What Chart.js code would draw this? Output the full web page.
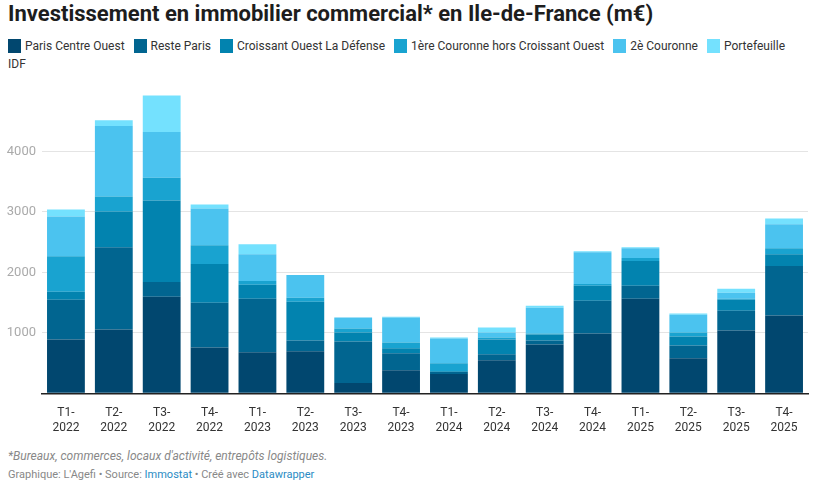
<!DOCTYPE html>
<html>
<head>
<meta charset="utf-8">
<script src="https://cdn.jsdelivr.net/npm/chart.js@4/dist/chart.umd.min.js"></script>
<style>
  body { margin: 0; background: #fff; font-family: Roboto, sans-serif; }
  #wrap { position: relative; width: 827px; height: 487px; overflow: hidden; }
  h1 { position: absolute; left: 8px; top: 1px; margin: 0; font-size: 22px; font-weight: 700; color: #1d1d1d; }
  #legend { position: absolute; left: 8px; top: 38px; width: 800px; font-size: 12px; line-height: 17.5px; color: #333; }
  #legend span.sw { display: inline-block; width: 13px; height: 14px; vertical-align: -3px; margin-right: 4px; }
  #legend span.item { margin-right: 9px; }
  #box { position: absolute; left: 0; top: 80px; width: 827px; height: 360px; }
  .note { position: absolute; left: 8px; font-size: 12px; color: #888; }
  .note a { color: #2a8bc4; text-decoration: none; }
</style>
</head>
<body>
<div id="wrap">
  <h1>Investissement en immobilier commercial* en Ile-de-France (m€)</h1>
  <div id="legend"></div>
  <div id="box"><canvas id="chart"></canvas></div>
  <div class="note" style="top:449px;font-style:italic;">*Bureaux, commerces, locaux d'activité, entrepôts logistiques.</div>
  <div class="note" style="top:468px;font-size:11px;">Graphique: L'Agefi • Source: <a>Immostat</a> • Créé avec <a>Datawrapper</a></div>
</div>
<script>
'use strict';

var categories = ['T1-2022', 'T2-2022', 'T3-2022', 'T4-2022', 'T1-2023', 'T2-2023', 'T3-2023', 'T4-2023',
  'T1-2024', 'T2-2024', 'T3-2024', 'T4-2024', 'T1-2025', 'T2-2025', 'T3-2025', 'T4-2025'];

var parisCentreOuest = [890, 1054, 1595, 759, 677, 694, 169, 382, 317, 546, 808, 989, 1563, 579, 1038, 1284];
var resteParis = [656, 1361, 246, 738, 886, 180, 688, 279, 33, 98, 66, 541, 213, 213, 328, 819];
var croissantOuest = [131, 590, 1344, 639, 229, 639, 148, 82, 16, 246, 98, 246, 410, 148, 180, 197];
var premiereCouronne = [590, 246, 377, 312, 66, 66, 66, 98, 131, 33, 16, 32, 49, 65, 17, 99];
var deuxiemeCouronne = [656, 1165, 755, 606, 442, 377, 180, 410, 410, 82, 426, 525, 164, 295, 98, 393];
var portefeuille = [115, 98, 606, 66, 164, 0, 0, 16, 16, 82, 33, 16, 16, 17, 66, 98];

var seriesNames = ['Paris Centre Ouest', 'Reste Paris', 'Croissant Ouest La Défense',
  '1ère Couronne hors Croissant Ouest', '2è Couronne', 'Portefeuille IDF'];
var seriesValues = [parisCentreOuest, resteParis, croissantOuest, premiereCouronne, deuxiemeCouronne, portefeuille];
var colors = ['#01476f', '#016590', '#0283af', '#19a3d0', '#4bc3ef', '#74e1fe'];

var yTicks = [0, 1000, 2000, 3000, 4000];

// html legend (wraps like the original)
var legend = document.getElementById('legend');
seriesNames.forEach(function(name, i) {
  var s = document.createElement('span');
  s.className = 'item';
  s.innerHTML = '<span class="sw" style="background:' + colors[i] + '"></span>' + name;
  legend.appendChild(s);
});

var ctx = document.getElementById('chart');
new Chart(ctx, {
  type: 'bar',
  data: {
    labels: categories.map(function(c) { var p = c.split('-'); return [p[0] + '-', p[1]]; }),
    datasets: seriesValues.map(function(vals, i) {
      return {
        label: seriesNames[i],
        data: vals,
        backgroundColor: colors[i],
        borderWidth: 0,
        barPercentage: 0.79,
        categoryPercentage: 1
      };
    })
  },
  options: {
    responsive: true,
    maintainAspectRatio: false,
    animation: false,
    layout: { padding: { top: 11.3, right: 19, bottom: 6.7, left: 0 } },
    plugins: { legend: { display: false }, tooltip: { enabled: false } },
    scales: {
      x: {
        stacked: true,
        grid: { display: false },
        border: { color: '#222', width: 1.5 },
        ticks: { color: '#333', font: { family: 'Roboto', size: 12, lineHeight: 1.25 }, padding: 4, maxRotation: 0, autoSkip: false },
        afterFit: function(scale) { scale.height = 40; }
      },
      y: {
        stacked: true,
        min: 0,
        max: 4950,
        afterBuildTicks: function(scale) { scale.ticks = yTicks.map(function(v) { return { value: v }; }); },
        border: { display: false },
        grid: { color: function(c) { return c.tick && c.tick.value === 0 ? 'rgba(0,0,0,0)' : '#e4e4e4'; }, drawTicks: false },
        ticks: {
          color: '#aaa',
          font: { family: 'Roboto', size: 13 },
          padding: 6,
          callback: function(v) { return v === 0 ? '' : v; }
        },
        afterFit: function(scale) { scale.width = 42; }
      }
    }
  }
});
</script>
</body>
</html>
